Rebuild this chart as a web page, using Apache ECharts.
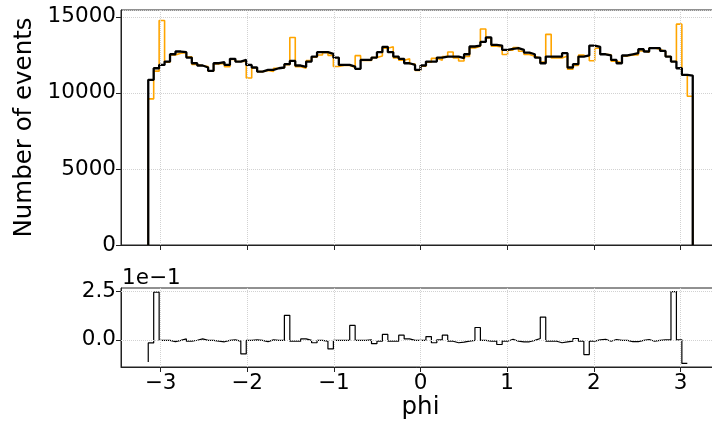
<!DOCTYPE html>
<html>
<head>
<meta charset="utf-8">
<script src="https://cdn.jsdelivr.net/npm/echarts@6/dist/echarts.min.js"></script>
<style>html,body{margin:0;padding:0;background:#fff;overflow:hidden}#c{width:712px;height:421px}</style>
</head>
<body>
<div id="c"></div>
<script>
// histogram binning: 100 bins over [-pi, pi]
const PHI_MIN = -Math.PI, PHI_MAX = Math.PI, NBINS = 100;
// black histogram (reference)
const blackCounts = [10860,11620,11840,12060,12540,12720,12680,12320,11950,11800,
11670,11450,11950,12020,11840,12240,12060,12170,11840,11670,
11400,11510,11510,11620,11670,11890,12100,11800,11710,12060,
12390,12680,12680,12560,12320,11840,11840,11730,11580,12170,
12170,12320,12680,13030,12680,12390,12240,11950,11840,11510,
11800,12060,12060,12320,12390,12390,12390,12280,12540,13050,
13110,13350,13650,13160,13110,12830,12900,12940,12830,12650,
12540,12320,11950,12390,12390,12390,12610,11670,11890,12390,
12460,13110,13030,12540,12460,12170,11950,12460,12540,12610,
12870,12720,12940,12940,12760,12390,12060,11620,11180,11140];
// orange histogram
const orangeCounts = [9610,11430,14760,12020,12500,12610,12640,12380,11870,11780,
11730,11420,11910,11940,11720,12200,12060,12090,10980,11640,
11400,11480,11410,11620,11640,11850,13640,11720,11630,12120,
12350,12490,12640,12470,11740,11800,11800,11690,12450,12130,
12130,12320,12430,12940,13040,12300,12150,12240,11900,11480,
11760,12020,12270,12140,12390,12690,12300,12100,12390,12960,
13070,14200,13610,13070,13020,12520,12810,12980,12740,12520,
12410,12280,12030,13850,12300,12300,12420,11550,11810,12480,
12370,12110,12940,12540,12500,12090,11970,12420,12500,12500,
12750,12680,12970,12850,12720,12390,12060,14520,11180,9780];
// ratio panel values (per bin, plotted at left bin edges)
const ratioValues = [-0.115,-0.016,0.247,-0.003,-0.003,-0.009,-0.003,0.005,-0.007,-0.002,
0.005,-0.003,-0.003,-0.007,-0.01,-0.003,0.0,-0.007,-0.073,-0.003,
0.0,-0.003,-0.009,0.0,-0.003,-0.003,0.127,-0.007,-0.007,0.005,
-0.003,-0.015,-0.003,-0.007,-0.047,-0.003,-0.003,-0.003,0.075,-0.003,
-0.003,0.0,-0.02,-0.007,0.028,-0.007,-0.007,0.024,0.005,-0.003,
-0.003,-0.003,0.017,-0.015,0.0,0.024,-0.007,-0.015,-0.012,-0.007,
-0.003,0.064,-0.003,-0.007,-0.007,-0.024,-0.007,0.003,-0.007,-0.01,
-0.01,-0.003,0.007,0.118,-0.007,-0.007,-0.015,-0.01,-0.007,0.007,
-0.007,-0.076,-0.007,0.0,0.003,-0.007,0.002,-0.003,-0.003,-0.009,
-0.009,-0.003,0.002,-0.007,-0.003,0.0,0.0,0.25,0.0,-0.122];
const xTicks = [-3,-2,-1,0,1,2,3];
const yTicksTop = [0,5000,10000,15000];
const yTicksRatio = [0,0.25];

const edges = [];
for (let i = 0; i <= NBINS; i++) edges.push(PHI_MIN + (PHI_MAX - PHI_MIN) * i / NBINS);

function histStep(counts) {
  const pts = [[edges[0], 0]];
  for (let i = 0; i < counts.length; i++) pts.push([edges[i], counts[i]]);
  pts.push([edges[NBINS], counts[counts.length - 1]]);
  pts.push([edges[NBINS], 0]);
  return pts;
}
const ratioPts = ratioValues.map((v, i) => [edges[i], v]);

const FONT = 'DejaVu Sans';
const TICK_FS = 21.5, LABEL_FS = 24.5;
const XMIN = -3.456, XMAX = 3.456;
const gridLine = {type: 'dotted', color: '#d2d2d2', width: 1};
const minus = v => (v < 0 ? '\u2212' + Math.abs(v) : String(v));

const chart = echarts.init(document.getElementById('c'), null, {renderer: 'canvas'});
chart.setOption({
  animation: false,
  backgroundColor: '#fff',
  grid: [
    {left: 121, top: 10, width: 599, height: 235, show: true, borderColor: '#222', borderWidth: 1,
     containLabel: false, outerBoundsMode: 'none'},
    {left: 121, top: 288, width: 599, height: 79, show: true, borderColor: '#222', borderWidth: 1,
     containLabel: false, outerBoundsMode: 'none'}
  ],
  xAxis: [
    {type: 'value', gridIndex: 0, min: XMIN, max: XMAX,
     axisLine: {show: true, onZero: false, lineStyle: {color: '#222', width: 1}},
     axisTick: {show: true, length: 5, customValues: xTicks, lineStyle: {color: '#222'}},
     axisLabel: {show: false}, splitLine: {show: false}},
    {type: 'value', gridIndex: 1, min: XMIN, max: XMAX,
     name: 'phi', nameLocation: 'middle', nameGap: 27,
     nameTextStyle: {fontFamily: FONT, fontSize: LABEL_FS, color: '#000'},
     axisLine: {show: true, onZero: false, lineStyle: {color: '#222', width: 1}},
     axisTick: {show: true, length: 5, customValues: xTicks, lineStyle: {color: '#222'}},
     axisLabel: {show: true, customValues: xTicks, margin: 5, fontFamily: FONT, fontSize: TICK_FS, color: '#000', formatter: minus},
     splitLine: {show: false}}
  ],
  yAxis: [
    {type: 'value', gridIndex: 0, min: 0, max: 15450, interval: 5000,
     name: 'Number of events', nameLocation: 'middle', nameGap: 75, nameRotate: 90,
     nameTextStyle: {fontFamily: FONT, fontSize: LABEL_FS, color: '#000'},
     axisLine: {show: true, onZero: false, lineStyle: {color: '#222', width: 1}},
     axisTick: {show: true, length: 5, lineStyle: {color: '#222'}},
     axisLabel: {fontFamily: FONT, fontSize: TICK_FS, color: '#000', margin: 5, formatter: v => String(v)},
     splitLine: {show: true, lineStyle: gridLine}},
    {type: 'value', gridIndex: 1, min: -0.1406, max: 0.2686,
     axisLine: {show: true, onZero: false, lineStyle: {color: '#222', width: 1}},
     axisTick: {show: true, length: 5, customValues: yTicksRatio, lineStyle: {color: '#222'}},
     axisLabel: {show: true, customValues: yTicksRatio, fontFamily: FONT, fontSize: TICK_FS, color: '#000', margin: 5,
       formatter: v => (v * 10).toFixed(1)},
     splitLine: {show: false}}
  ],
  graphic: [
    {type: 'text', left: 122, top: 267, style: {text: '1e\u22121', fontFamily: FONT, fontSize: TICK_FS, fill: '#000'}}
  ],
  series: [
    {type: 'line', xAxisIndex: 0, yAxisIndex: 0, data: [], z: 1, silent: true,
     markLine: {silent: true, symbol: 'none', label: {show: false}, lineStyle: gridLine,
       data: xTicks.map(v => ({xAxis: v}))}},
    {type: 'line', xAxisIndex: 1, yAxisIndex: 1, data: [], z: 1, silent: true,
     markLine: {silent: true, symbol: 'none', label: {show: false}, lineStyle: gridLine,
       data: xTicks.map(v => ({xAxis: v})).concat(yTicksRatio.map(v => ({yAxis: v})))}},
    {name: 'orange', type: 'line', xAxisIndex: 0, yAxisIndex: 0, data: histStep(orangeCounts), step: 'end',
     showSymbol: false, symbol: 'none', z: 3, lineStyle: {color: '#FFA500', width: 1.6}},
    {name: 'black', type: 'line', xAxisIndex: 0, yAxisIndex: 0, data: histStep(blackCounts), step: 'end',
     showSymbol: false, symbol: 'none', z: 4, lineStyle: {color: '#000', width: 2.3}},
    {name: 'ratio', type: 'line', xAxisIndex: 1, yAxisIndex: 1, data: ratioPts, step: 'start',
     showSymbol: false, symbol: 'none', z: 4, lineStyle: {color: '#000', width: 1.2}}
  ]
});
</script>
</body>
</html>
